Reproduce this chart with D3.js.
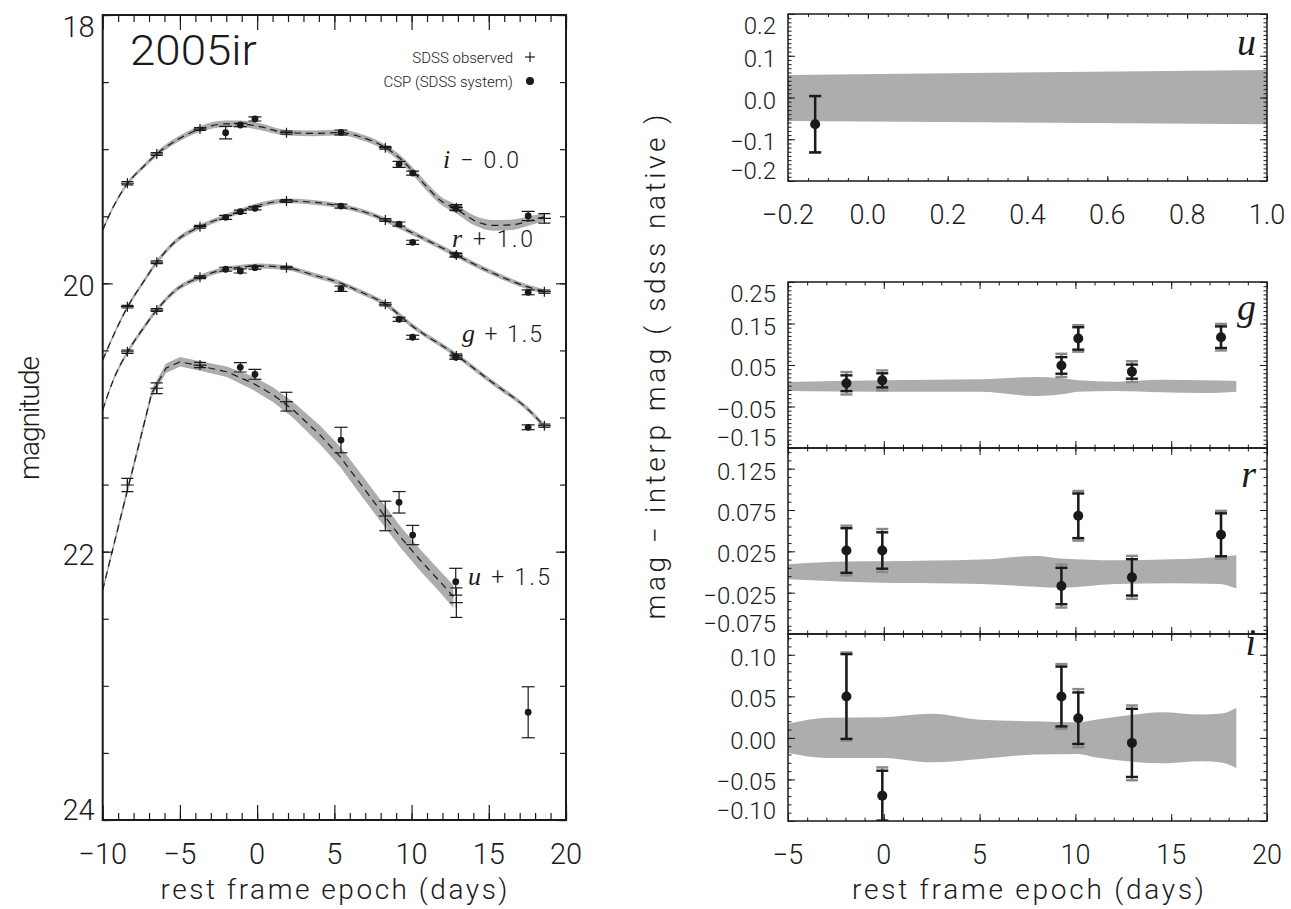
<!DOCTYPE html>
<html><head><meta charset="utf-8">
<script src="https://cdn.jsdelivr.net/npm/d3@7"></script>
<style>
body{margin:0;background:#fff}
svg{display:block}
text{font-family:Roboto,"Liberation Sans","DejaVu Sans",sans-serif;font-weight:300;fill:#1a1a1a}
.it{font-family:"Liberation Serif","DejaVu Serif",serif;font-style:italic;font-weight:400}
</style>
</head><body>
<svg id="c" width="1291" height="909"></svg>
<script>
// ---------------- LEFT PANEL DATA ----------------
const sdssEpochs=[-8.4,-6.5,-3.7,1.9,8.3,12.9,18.6];
const cspEpochs=[-2.04,-1.09,-0.14,5.43,9.19,10.07,12.86,17.55];
const iSDSS=[19.254,19.036,18.850,18.877,18.989,19.436,19.516];
const iSDSSerr=[0.012,0.010,0.010,0.012,0.010,0.022,0.035];
const iCSP=[18.877,18.820,18.775,18.875,19.113,19.178,19.440,19.498];
const iCSPerr=[0.047,0.012,0.015,0.018,0.022,0.015,0.015,0.035];
const rSDSS=[20.174,19.843,19.578,19.386,19.528,19.789,20.062];
const rSDSSerr=[0.010,0.010,0.010,0.010,0.010,0.012,0.012];
const rCSP=[19.508,19.466,19.441,19.424,19.558,19.694,19.789,20.067];
const rCSPerr=[0.015,0.012,0.012,0.015,0.015,0.015,0.015,0.018];
const gSDSS=[20.510,20.199,19.955,19.883,20.156,20.541,21.061];
const gSDSSerr=[0.012,0.010,0.010,0.010,0.012,0.015,0.012];
const gCSP=[19.895,19.908,19.883,20.040,20.268,20.402,20.551,21.073];
const gCSPerr=[0.015,0.015,0.012,0.020,0.015,0.015,0.015,0.018];
const uSDSSEpochs=[-8.4,-6.5,-3.7,1.9,8.3,12.9];
const uSDSS=[21.503,20.782,20.609,20.882,21.734,22.380];
const uSDSSerr=[0.050,0.040,0.020,0.070,0.110,0.110];
const uCSPEpochs=[-1.09,-0.14,5.43,9.19,10.07,12.86,17.55];
const uCSP=[20.626,20.678,21.168,21.632,21.876,22.224,23.197];
const uCSPerr=[0.035,0.037,0.095,0.080,0.072,0.100,0.190];

// model (interpolated) light curves
const iModelX=[-10,-9.31,-8.38,-7.37,-6.5,-5.21,-3.7,-2.04,-1.09,0.18,1.87,3.64,5.43,6.66,8.32,9.25,10.11,10.98,11.84,12.88,14.0,15.3,16.59,17.67,18.58];
const iModelY=[19.602,19.429,19.254,19.131,19.036,18.932,18.850,18.812,18.812,18.832,18.877,18.882,18.877,18.907,18.989,19.068,19.168,19.280,19.379,19.445,19.528,19.568,19.562,19.533,19.505];
const iModelErr=[0.015,0.015,0.015,0.015,0.018,0.02,0.022,0.025,0.025,0.025,0.022,0.022,0.022,0.022,0.022,0.025,0.028,0.03,0.03,0.032,0.036,0.04,0.038,0.034,0.03];
const rModelX=[-10,-8.38,-7.37,-6.5,-5.21,-3.7,-2.04,0.18,1.87,3.64,5.43,6.66,8.32,10.11,12.88,15.3,17.46,18.58];
const rModelY=[20.571,20.174,19.990,19.843,19.680,19.578,19.503,19.416,19.386,19.396,19.424,19.458,19.528,19.627,19.789,19.925,20.025,20.062];
const rModelErr=[0.015,0.016,0.017,0.018,0.018,0.018,0.018,0.018,0.018,0.018,0.018,0.018,0.018,0.018,0.018,0.018,0.018,0.018];
const gModelX=[-10,-9.31,-8.38,-7.37,-6.5,-5.21,-3.7,-2.04,0.18,1.87,3.64,5.43,6.66,8.32,10.11,12.88,15.3,17.46,18.58];
const gModelY=[20.944,20.720,20.510,20.335,20.199,20.045,19.955,19.895,19.871,19.883,19.938,20.000,20.062,20.156,20.323,20.534,20.745,20.931,21.061];
const gModelErr=[0.015,0.016,0.017,0.018,0.018,0.018,0.018,0.018,0.018,0.018,0.018,0.018,0.018,0.018,0.018,0.018,0.018,0.018,0.018];
const uModelX=[-10,-9.31,-8.45,-7.58,-6.83,-5.9,-4.99,-3.7,-1.97,-0.25,1.05,2.34,4.07,5.37,6.66,7.96,9.26,10.55,11.85,12.71];
const uModelY=[22.286,21.963,21.565,21.168,20.820,20.633,20.584,20.616,20.659,20.745,20.832,20.944,21.130,21.292,21.490,21.689,21.888,22.062,22.224,22.335];
const uModelErr=[0.02,0.025,0.03,0.03,0.03,0.035,0.035,0.035,0.04,0.05,0.055,0.06,0.07,0.075,0.08,0.08,0.08,0.08,0.08,0.085];

const leftXTicks=[-10,-5,0,5,10,15,20];
const leftXLabels=["\u221210","\u22125","0","5","10","15","20"];
const leftYTicks=[18,20,22,24];
const leftYLabels=["18","20","22","24"];

// ---------------- RIGHT PANELS DATA ----------------
const uResEpochs=[-0.132];
const uRes=[-0.064];
const uResErr=[0.0675];
const uResErrSys=[0.0675];
const uBandX=[-0.2,1.0];
const uBandHi=[0.054,0.066];
const uBandLo=[-0.056,-0.064];

const resEpochs=[-1.95,-0.08,9.27,10.15,12.95,17.6];
const gRes=[0.006,0.013,0.049,0.114,0.034,0.117];
const gResErr=[0.019,0.017,0.020,0.027,0.017,0.026];
const gResErrSys=[0.027,0.024,0.028,0.032,0.025,0.032];
const gBandX=[-5,-0.03,5.05,7.93,9.27,10.13,12.09,14.51,16.6,18.4];
const gBandHi=[0.009,0.0131,0.0155,0.0211,0.0179,0.0131,0.0099,0.0147,0.0131,0.0115];
const gBandLo=[-0.0127,-0.0143,-0.0143,-0.0247,-0.0207,-0.0143,-0.0127,-0.0159,-0.0175,-0.0143];

const rRes=[0.026,0.026,-0.017,0.068,-0.0065,0.045];
const rResErr=[0.027,0.022,0.022,0.027,0.022,0.026];
const rResErrSys=[0.030,0.026,0.026,0.030,0.026,0.029];
const rBandX=[-5,-1.95,-0.03,5.05,7.93,9.27,12.09,15.09,17.52,18.4];
const rBandHi=[0.0094,0.0127,0.013,0.015,0.0194,0.0163,0.0142,0.0154,0.0182,0.0202];
const rBandLo=[-0.0089,-0.0117,-0.013,-0.0145,-0.0178,-0.019,-0.0145,-0.0137,-0.0145,-0.020];

const iResEpochs=[-1.95,-0.08,9.27,10.15,12.95];
const iRes=[0.0498,-0.0695,0.0498,0.0237,-0.006];
const iResErr=[0.051,0.030,0.036,0.031,0.041];
const iResErrSys=[0.053,0.034,0.039,0.035,0.045];
const iBandX=[-5,-2.92,-0.03,2.51,5.05,7.93,10.13,11.05,12.67,14.51,16.6,17.52,18.4];
const iBandHi=[0.0169,0.0241,0.0248,0.0289,0.0217,0.020,0.0188,0.0217,0.0269,0.0309,0.0281,0.0289,0.0361];
const iBandLo=[-0.0181,-0.0241,-0.0241,-0.0294,-0.0253,-0.0201,-0.0193,-0.0233,-0.0282,-0.0306,-0.0282,-0.0294,-0.0361];

const uXTicks=[-0.2,0.0,0.2,0.4,0.6,0.8,1.0];
const uXLabels=["\u22120.2","0.0","0.2","0.4","0.6","0.8","1.0"];
const uYTicks=[0.2,0.1,0.0,-0.1,-0.2];
const uYLabels=["0.2","0.1","0.0","\u22120.1","\u22120.2"];
const lowXTicks=[-5,0,5,10,15,20];
const lowXLabels=["\u22125","0","5","10","15","20"];
const gYTicks=[0.25,0.15,0.05,-0.05,-0.15];
const gYLabels=["0.25","0.15","0.05","\u22120.05","\u22120.15"];
const rYTicks=[0.125,0.075,0.025,-0.025,-0.075];
const rYLabels=["0.125","0.075","0.025","\u22120.025","\u22120.075"];
const iYTicks=[0.10,0.05,0.00,-0.05,-0.10];
const iYLabels=["0.10","0.05","0.00","\u22120.05","\u22120.10"];

// ---------------- DRAWING ----------------
const svg=d3.select("#c");
const BAND="#adadad", INK="#1a1a1a";

function rng(a,b,s){const n=Math.round((b-a)/s);return d3.range(n+1).map(i=>+(a+i*s).toFixed(6));}

function frame(g,x,y,o){
  const [X0,X1]=x.range();
  const Y0=Math.min(...y.range()), Y1=Math.max(...y.range());
  const add=(axis,tr,vals,len)=>{
    g.append("g").attr("transform",tr)
     .call(axis.tickValues(vals).tickSizeInner(-len).tickSizeOuter(0).tickFormat(()=>""))
     .call(s=>{s.select(".domain").remove();s.selectAll("text").remove();
       s.selectAll("line").attr("stroke",INK).attr("stroke-width",o.tw||1.2);});
  };
  add(d3.axisBottom(x),`translate(0,${Y1})`,o.xMinor,o.xMinLen);
  add(d3.axisBottom(x),`translate(0,${Y1})`,o.xMajor,o.xMajLen);
  add(d3.axisTop(x),`translate(0,${Y0})`,o.xMinor,o.xMinLen);
  add(d3.axisTop(x),`translate(0,${Y0})`,o.xMajor,o.xMajLen);
  add(d3.axisLeft(y),`translate(${X0},0)`,o.yMinor,o.yMinLen);
  add(d3.axisLeft(y),`translate(${X0},0)`,o.yMajor,o.yMajLen);
  add(d3.axisRight(y),`translate(${X1},0)`,o.yMinor,o.yMinLen);
  add(d3.axisRight(y),`translate(${X1},0)`,o.yMajor,o.yMajLen);
  g.append("rect").attr("x",X0).attr("y",Y0).attr("width",X1-X0).attr("height",Y1-Y0)
   .attr("fill","none").attr("stroke",INK).attr("stroke-width",o.fw||1.5);
  if(o.yLabels){
    o.yMajor.forEach((v,i)=>{
      let cy=Math.max(Y0+12,Math.min(Y1-10,y(v)+3));
      g.append("text").attr("x",X0-o.yPad).attr("y",cy).attr("text-anchor","end")
       .attr("dominant-baseline","central").attr("font-size",o.fs).text(o.yLabels[i]);
    });
  }
  if(o.xLabels){
    o.xMajor.forEach((v,i)=>{
      g.append("text").attr("x",x(v)).attr("y",Y1+34).attr("text-anchor","middle")
       .attr("dominant-baseline","central").attr("font-size",o.xfs||o.fs).text(o.xLabels[i]);
    });
  }
}

function clip(id,x,y){
  const [X0,X1]=x.range();const Y0=Math.min(...y.range()),Y1=Math.max(...y.range());
  svg.append("clipPath").attr("id",id).append("rect").attr("x",X0).attr("y",Y0).attr("width",X1-X0).attr("height",Y1-Y0);
  return svg.append("g").attr("clip-path",`url(#${id})`);
}

// ---- Left panel ----
const xL=d3.scaleLinear().domain([-10,20]).range([102.7,566]);
const yL=d3.scaleLinear().domain([18,24]).range([15,820]);
const gL=clip("clipL",xL,yL);

function modelCurve(X,Y,E,curve){
  const d=X.map((v,i)=>({x:v,y:Y[i],e:E[i]}));
  gL.append("path").datum(d).attr("fill",BAND).attr("stroke","none")
   .attr("d",d3.area().x(p=>xL(p.x)).y0(p=>yL(p.y-p.e)).y1(p=>yL(p.y+p.e)).curve(curve));
  gL.append("path").datum(d).attr("fill","none").attr("stroke",INK).attr("stroke-width",1.2)
   .attr("stroke-dasharray","7,5")
   .attr("d",d3.line().x(p=>xL(p.x)).y(p=>yL(p.y)).curve(curve));
}
modelCurve(iModelX,iModelY,iModelErr,d3.curveMonotoneX);
modelCurve(rModelX,rModelY,rModelErr,d3.curveMonotoneX);
modelCurve(gModelX,gModelY,gModelErr,d3.curveMonotoneX);
modelCurve(uModelX,uModelY,uModelErr,d3.curveLinear);

function errbarL(x,y,e,cap){
  const px=xL(x);
  gL.append("line").attr("x1",px).attr("x2",px).attr("y1",yL(y-e)).attr("y2",yL(y+e)).attr("stroke",INK).attr("stroke-width",1.2);
  [y-e,y+e].forEach(v=>gL.append("line").attr("x1",px-cap).attr("x2",px+cap).attr("y1",yL(v)).attr("y2",yL(v)).attr("stroke",INK).attr("stroke-width",1.2));
}
function sdssPts(X,Y,E){
  X.forEach((x,i)=>{
    errbarL(x,Y[i],E[i],6);
    const px=xL(x),py=yL(Y[i]);
    gL.append("line").attr("x1",px-6.5).attr("x2",px+6.5).attr("y1",py).attr("y2",py).attr("stroke",INK).attr("stroke-width",1.2);
    gL.append("line").attr("x1",px).attr("x2",px).attr("y1",py-5).attr("y2",py+5).attr("stroke",INK).attr("stroke-width",1.2);
  });
}
function cspPts(X,Y,E){
  X.forEach((x,i)=>{
    errbarL(x,Y[i],E[i],6.5);
    gL.append("circle").attr("cx",xL(x)).attr("cy",yL(Y[i])).attr("r",3.4).attr("fill",INK);
  });
}
sdssPts(sdssEpochs,iSDSS,iSDSSerr); cspPts(cspEpochs,iCSP,iCSPerr);
sdssPts(sdssEpochs,rSDSS,rSDSSerr); cspPts(cspEpochs,rCSP,rCSPerr);
sdssPts(sdssEpochs,gSDSS,gSDSSerr); cspPts(cspEpochs,gCSP,gCSPerr);
sdssPts(uSDSSEpochs,uSDSS,uSDSSerr); cspPts(uCSPEpochs,uCSP,uCSPerr);

frame(svg.append("g"),xL,yL,{
  xMajor:leftXTicks,xMinor:rng(-10,20,1),xMajLen:15,xMinLen:7,
  yMajor:leftYTicks,yMinor:rng(18,24,0.5),yMajLen:10,yMinLen:6,
  yLabels:leftYLabels,xLabels:leftXLabels,yPad:8,fs:29,fw:2
});

// left texts
svg.append("text").attr("x",130).attr("y",65).attr("font-size",43).attr("textLength",127).attr("lengthAdjust","spacingAndGlyphs").text("2005ir");
svg.append("text").attr("x",513).attr("y",63).attr("font-size",15).attr("text-anchor","end").text("SDSS observed");
svg.append("line").attr("x1",525).attr("x2",535).attr("y1",57).attr("y2",57).attr("stroke",INK).attr("stroke-width",1.2);
svg.append("line").attr("x1",530).attr("x2",530).attr("y1",52).attr("y2",62).attr("stroke",INK).attr("stroke-width",1.2);
svg.append("text").attr("x",513).attr("y",87).attr("font-size",15).attr("text-anchor","end").text("CSP (SDSS system)");
svg.append("circle").attr("cx",530).attr("cy",81).attr("r",4).attr("fill",INK);

function bandLabel(x,y,letter,rest,len){
  const t=svg.append("text").attr("x",x).attr("y",y).attr("font-size",23);
  t.append("tspan").attr("class","it").attr("font-size",26).text(letter);
  t.append("tspan").text(rest);
  t.attr("textLength",len).attr("lengthAdjust","spacing");
}
bandLabel(443,168,"i","  \u2212  0.0",76);
bandLabel(452,247,"r","  +  1.0",81);
bandLabel(462,342,"g","  +  1.5",80);
bandLabel(468,585,"u","  +  1.5",82);

svg.append("text").attr("x",334).attr("y",899).attr("text-anchor","middle").attr("font-size",28)
  .attr("textLength",347).attr("lengthAdjust","spacing").text("rest frame epoch (days)");
svg.append("text").attr("transform","translate(39,418) rotate(-90)").attr("text-anchor","middle")
  .attr("font-size",28).attr("textLength",124).attr("lengthAdjust","spacing").text("magnitude");

// ---- Right panels ----
const RX0=788, RX1=1267;
function resPanel(opt){
  const x=d3.scaleLinear().domain(opt.xd).range([RX0,RX1]);
  const y=d3.scaleLinear().domain(opt.yd).range([opt.py1,opt.py0]);
  const g=clip(opt.id,x,y);
  const bd=opt.bx.map((v,i)=>({x:v,hi:opt.bhi[i],lo:opt.blo[i]}));
  g.append("path").datum(bd).attr("fill",BAND)
   .attr("d",d3.area().x(p=>x(p.x)).y0(p=>y(p.lo)).y1(p=>y(p.hi)).curve(d3.curveMonotoneX));
  opt.px.forEach((xv,i)=>{
    const px=x(xv), v=opt.pv[i];
    [[opt.pes[i],"#8a8a8a"],[opt.pe[i],INK]].forEach(([e,col])=>{
      g.append("line").attr("x1",px).attr("x2",px).attr("y1",y(v-e)).attr("y2",y(v+e)).attr("stroke",col).attr("stroke-width",2.4);
      [v-e,v+e].forEach(w=>g.append("line").attr("x1",px-6).attr("x2",px+6).attr("y1",y(w)).attr("y2",y(w)).attr("stroke",col).attr("stroke-width",2.4));
    });
    g.append("circle").attr("cx",px).attr("cy",y(v)).attr("r",5).attr("fill",INK);
  });
  frame(svg.append("g"),x,y,{
    xMajor:opt.xt,xMinor:opt.xminor,xMajLen:opt.xml||7,xMinLen:opt.xmn||3.5,
    yMajor:opt.yt,yMinor:opt.yminor,yMajLen:7,yMinLen:3.5,
    yLabels:opt.yl,xLabels:opt.xl,yPad:12,fs:24,xfs:27,fw:1.5,tw:1
  });
  svg.append("text").attr("class","it").attr("x",1256).attr("y",opt.ly).attr("text-anchor","end")
    .attr("font-size",38).style("font-family",'"Liberation Serif","DejaVu Serif",serif').style("font-style","italic").text(opt.letter);
}
resPanel({id:"cu",xd:[-0.2,1.0],yd:[-0.2,0.2],py0:14,py1:181,bx:uBandX,bhi:uBandHi,blo:uBandLo,
  px:uResEpochs,pv:uRes,pe:uResErr,pes:uResErrSys,xt:uXTicks,xminor:rng(-0.2,1.0,0.05),xml:5,xmn:3,
  yt:uYTicks,yminor:rng(-0.2,0.2,0.01),yl:uYLabels,xl:uXLabels,letter:"u",ly:55});
resPanel({id:"cg",xd:[-5,20],yd:[-0.15,0.25],py0:282,py1:448,bx:gBandX,bhi:gBandHi,blo:gBandLo,
  px:resEpochs,pv:gRes,pe:gResErr,pes:gResErrSys,xt:lowXTicks,xminor:rng(-5,20,1),
  yt:gYTicks,yminor:rng(-0.15,0.25,0.01),yl:gYLabels,xl:null,letter:"g",ly:320});
resPanel({id:"cr",xd:[-5,20],yd:[-0.075,0.15],py0:448,py1:634,bx:rBandX,bhi:rBandHi,blo:rBandLo,
  px:resEpochs,pv:rRes,pe:rResErr,pes:rResErrSys,xt:lowXTicks,xminor:rng(-5,20,1),
  yt:rYTicks,yminor:rng(-0.075,0.15,0.01),yl:rYLabels,xl:null,letter:"r",ly:487});
resPanel({id:"ci",xd:[-5,20],yd:[-0.10,0.125],py0:634,py1:821,bx:iBandX,bhi:iBandHi,blo:iBandLo,
  px:iResEpochs,pv:iRes,pe:iResErr,pes:iResErrSys,xt:lowXTicks,xminor:rng(-5,20,1),
  yt:iYTicks,yminor:rng(-0.10,0.125,0.01),yl:iYLabels,xl:lowXLabels,letter:"i",ly:655});

svg.append("text").attr("x",1028).attr("y",899).attr("text-anchor","middle").attr("font-size",28)
  .attr("textLength",352).attr("lengthAdjust","spacing").text("rest frame epoch (days)");
svg.append("text").attr("transform","translate(665,367) rotate(-90)").attr("text-anchor","middle")
  .attr("font-size",28).attr("textLength",505).attr("lengthAdjust","spacing").text("mag \u2212 interp mag ( sdss native )");
</script>
</body></html>
